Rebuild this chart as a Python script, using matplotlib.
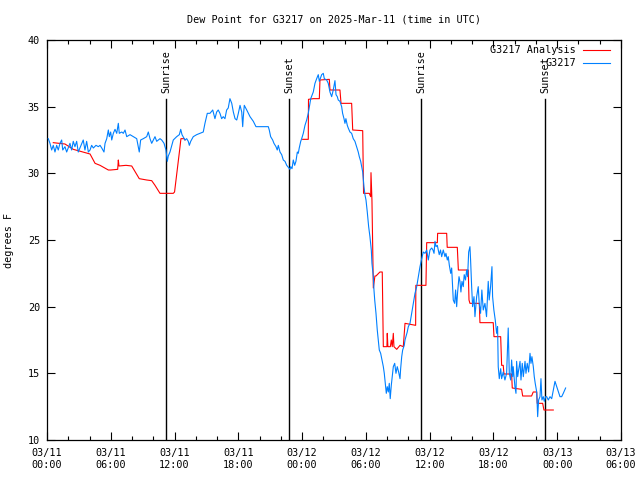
import numpy as np
import matplotlib
matplotlib.use("Agg")
from matplotlib import pyplot as plt
from matplotlib.ticker import MultipleLocator

plt.rcParams['font.family'] = ['DejaVu Sans Mono']
plt.rcParams['font.size'] = 7.3

# hours since 2025-03-11 00:00 UTC
analysis_t = [0.59, 1.69, 2.47, 4.05, 4.52, 4.99, 5.77, 5.99, 6.65, 6.71, 6.77, 7.43, 7.97,
              8.68, 9.38, 9.85, 10.16, 10.63, 11.88, 12.0, 12.5, 12.6, 12.89, 12.98, 13.0,
              24.0, 24.05, 24.58, 24.6, 25.05, 25.62, 25.68, 26.56, 26.62, 27.56, 27.66,
              28.66, 28.76, 29.70, 29.78, 30.32, 30.45, 30.48, 30.57, 30.64, 30.70, 30.85,
              30.95, 31.32, 31.54, 31.64, 31.98, 32.01, 32.07, 32.30, 32.39, 32.48, 32.58,
              32.64, 32.90, 33.21, 33.52, 33.68, 34.68, 34.70, 35.65, 35.72, 36.72, 36.75,
              37.60, 37.65, 38.60, 38.70, 39.63, 39.70, 39.79, 40.67, 40.73, 41.98, 42.05,
              42.68, 42.77, 42.92, 42.99, 43.71, 43.77, 44.65, 44.75, 45.59, 45.74, 46.07,
              46.12, 46.63, 46.75, 47.63]
analysis_v = [32.3, 32.2, 31.8, 31.45, 30.75, 30.6, 30.25, 30.25, 30.3, 31.0, 30.55, 30.6, 30.55,
              29.6, 29.5, 29.45, 29.1, 28.5, 28.5, 28.6, 31.9, 32.6, 32.6, 32.5, np.nan,
              np.nan, 32.55, 32.55, 35.55, 35.6, 35.6, 37.0, 37.05, 36.25, 36.25, 35.25,
              35.25, 33.25, 33.2, 28.5, 28.5, 28.25, 30.05, 28.0, 24.5, 21.4, 22.3,
              22.3, 22.6, 22.6, 17.0, 17.0, 18.0, 17.0, 17.0, 17.5, 17.0, 18.0,
              17.0, 16.8, 17.1, 17.0, 18.75, 18.6, 21.6, 21.6, 24.8, 24.8, 25.5,
              25.5, 24.45, 24.45, 22.75, 22.75, 20.5, 20.25, 20.25, 18.8, 18.8, 17.75,
              17.75, 15.6, 15.6, 14.95, 14.95, 13.9, 13.8, 13.3, 13.3, 13.6, 13.6,
              12.75, 12.75, 12.25, 12.25]

obs_t = [0.12, 0.28, 0.44, 0.59, 0.75, 0.91, 1.06, 1.22, 1.38, 1.48, 1.69, 1.85, 2.16, 2.32,
         2.47, 2.63, 2.79, 2.94, 3.10, 3.41, 3.57, 3.73, 3.89, 4.05, 4.20, 4.36, 4.61, 4.83,
         4.99, 5.15, 5.36, 5.46, 5.62, 5.77, 5.86, 5.99, 6.09, 6.24, 6.40, 6.56, 6.71, 6.80,
         7.03, 7.18, 7.34, 7.50, 7.81, 8.12, 8.44, 8.68, 8.81, 9.06, 9.38, 9.53, 9.69, 9.85,
         10.00, 10.16, 10.32, 10.47, 10.63, 10.79, 11.01, 11.19, 11.32, 11.41, 11.57, 11.88,
         12.20, 12.45, 12.58, 12.70, 12.98, 13.14, 13.29, 13.39, 13.52, 13.76, 14.08, 14.39,
         14.70, 14.86, 15.08, 15.33, 15.59, 15.80, 15.96, 16.11, 16.27, 16.43, 16.58, 16.74,
         16.90, 17.05, 17.21, 17.38, 17.53, 17.69, 17.85, 18.00, 18.16, 18.32, 18.41, 18.47,
         18.56, 18.79, 18.94, 19.10, 19.41, 19.66, 20.82, 20.91, 21.04, 21.23, 21.35, 21.54,
         21.66, 21.76, 21.92, 22.08, 22.23, 22.39, 22.55, 22.70, 22.86, 22.93, 23.05, 23.17,
         23.30, 23.42, 23.55, 23.64, 23.73, 23.87, 23.96, 24.11, 24.27, 24.43, 24.58, 24.68,
         24.81, 24.96, 25.05, 25.21, 25.37, 25.52, 25.62, 25.84, 25.99, 26.09, 26.31, 26.46,
         26.62, 26.78, 26.93, 27.09, 27.19, 27.31, 27.40, 27.56, 27.72, 27.81, 27.94, 28.03,
         28.12, 28.25, 28.34, 28.50, 28.66, 28.81, 28.97, 29.13, 29.28, 29.38, 29.51, 29.60,
         29.70, 29.82, 29.91, 30.01, 30.13, 30.26, 30.38, 30.51, 30.57, 30.70, 30.76, 30.83,
         30.95, 31.07, 31.16, 31.26, 31.39, 31.51, 31.64, 31.73, 31.82, 31.92, 32.01, 32.11,
         32.20, 32.29, 32.39, 32.48, 32.58, 32.71, 32.83, 32.95, 33.08, 33.21, 33.27, 33.37,
         33.46, 33.61, 33.68, 33.77, 33.89, 33.99, 34.15, 34.31, 34.46, 34.62, 34.78, 34.93,
         35.09, 35.25, 35.40, 35.56, 35.72, 35.87, 36.03, 36.19, 36.31, 36.41, 36.50, 36.60,
         36.72, 36.81, 36.90, 37.02, 37.13, 37.28, 37.44, 37.53, 37.66, 37.75, 37.85, 37.98,
         38.07, 38.16, 38.22, 38.35, 38.44, 38.54, 38.63, 38.76, 38.85, 38.94, 39.04, 39.16,
         39.25, 39.37, 39.48, 39.57, 39.67, 39.79, 39.85, 39.95, 40.04, 40.17, 40.26, 40.42,
         40.57, 40.66, 40.79, 40.91, 41.04, 41.20, 41.35, 41.51, 41.60, 41.73, 41.86, 41.92,
         42.04, 42.17, 42.30, 42.39,
         42.45, 42.55, 42.68, 42.77, 42.92, 43.08, 43.24, 43.39, 43.49, 43.62, 43.71, 43.81,
         43.86, 44.02, 44.12, 44.18, 44.28, 44.37, 44.50, 44.59, 44.71, 44.81, 44.97, 45.06,
         45.18, 45.31, 45.44, 45.53, 45.62, 45.75, 45.84, 45.93, 46.07, 46.16, 46.25, 46.38,
         46.47, 46.56, 46.69, 46.78, 46.91, 47.01, 47.16, 47.32, 47.48, 47.63, 47.79, 47.95,
         48.10, 48.26, 48.42, 48.57, 48.79]
obs_v = [32.6, 32.25, 31.75, 32.1, 31.6, 32.1, 31.75, 32.25, 32.5, 31.75, 32.0, 31.6, 32.25, 31.75,
         32.4, 32.0, 32.4, 31.6, 31.9, 32.5, 31.75, 32.4, 31.6, 31.75, 32.1, 31.9, 32.1, 32.0,
         32.1, 31.9, 31.6, 32.25, 32.6, 33.25, 32.75, 33.1, 32.5, 33.0, 33.3, 33.0, 33.75, 33.0,
         33.1, 33.0, 33.25, 32.75, 32.9, 32.75, 32.6, 31.6, 32.5, 32.6, 32.75, 33.1, 32.6, 32.25,
         32.5, 32.75, 32.4, 32.5, 32.6, 32.5, 32.25, 31.75, 30.9, 31.3, 31.6, 32.5,
         32.75, 32.9, 33.3, 32.9, 32.5, 32.6, 32.4, 32.1, 32.4, 32.75, 32.9, 33.0,
         33.1, 33.75, 34.5, 34.5, 34.75, 34.1, 34.6, 34.75, 34.5, 34.1, 34.25, 34.1,
         34.75, 34.9, 35.6, 35.25, 34.6, 34.1, 34.0, 34.5, 35.1, 34.6, 33.5, 34.25,
         35.1, 34.75, 34.5, 34.25, 33.9, 33.5, 33.5, 33.25, 32.75, 32.5, 32.25, 32.0,
         31.75, 32.1, 31.6, 31.4, 31.0, 30.9, 30.6, 30.45, 30.3, 30.5, 30.35, 31.0,
         30.6, 30.9, 31.6, 31.5, 31.9, 32.4, 32.6, 33.0, 33.6, 34.0, 34.5, 35.0,
         35.6, 35.9, 36.1, 36.75, 37.1, 37.4, 36.9, 37.4, 37.5, 37.1, 37.0, 36.75,
         36.1, 35.75, 36.25, 36.95, 35.9, 35.75, 35.5, 35.4, 35.0, 34.5, 34.1, 33.75,
         34.1, 33.6, 33.4, 33.1, 33.0, 32.6, 32.4, 32.0, 31.6, 31.25, 30.9, 30.5,
         30.1, 29.0, 28.4, 28.0, 27.1, 26.0, 25.25, 24.25, 23.25, 22.25, 21.25, 20.5,
         19.5, 18.25, 17.5, 16.75, 16.5, 16.0, 15.5, 15.0, 14.25, 13.5, 14.0, 13.6,
         14.25, 13.1, 14.1, 14.75, 15.5, 15.75, 15.0, 15.5, 15.1, 14.6, 15.35, 16.25,
         16.75, 17.1, 17.5, 17.75, 18.1, 18.5, 18.75, 19.5, 20.25, 21.0, 21.5, 22.25,
         23.0, 23.6, 24.1, 24.0, 24.25, 23.5, 24.25, 24.4, 24.25, 24.0, 24.9, 24.5,
         24.6, 24.25, 23.9, 24.25, 23.75, 24.25, 23.75, 24.0, 23.5, 23.75, 23.1, 22.5,
         22.9, 21.5, 20.5, 20.25, 21.25, 20.0, 21.1, 22.25, 21.9, 21.1, 21.9, 21.5,
         22.4, 22.0, 22.75, 22.25, 24.1, 24.5, 23.5, 21.5, 20.0, 20.75, 19.25, 20.75,
         21.5, 20.25, 19.5, 21.25, 19.75, 20.25, 19.25, 21.9, 20.5, 21.5, 23.0, 20.75,
         19.75, 19.0, 18.0, 18.5,
         15.5, 14.6, 15.35, 14.6, 15.1, 14.5, 15.0, 18.4, 15.0, 14.5, 16.0, 14.75,
         15.5, 14.0, 13.5, 15.9, 14.75, 15.25, 15.9, 14.5, 15.75, 14.75, 15.9, 15.0,
         15.75, 15.1, 16.5, 15.75, 16.25, 15.5, 14.75, 14.25, 13.6, 11.75, 13.0, 13.25,
         14.6, 13.0, 13.25, 12.9, 13.25, 13.25, 13.0, 13.25, 13.1, 13.75, 14.4, 14.0,
         13.6, 13.25, 13.25, 13.5, 13.9]

sun_t = [11.19, 22.77, 35.18, 46.85]
sun_lbl = ["Sunrise", "Sunset", "Sunrise", "Sunset"]

tick_hours = list(range(0, 55, 6))
tick_lbls = ["03/11\n00:00", "03/11\n06:00", "03/11\n12:00", "03/11\n18:00",
             "03/12\n00:00", "03/12\n06:00", "03/12\n12:00", "03/12\n18:00",
             "03/13\n00:00", "03/13\n06:00"]

fig = plt.figure(figsize=(6.4, 4.8), dpi=100)
ax = fig.add_axes([47 / 640, 40 / 480, 574 / 640, 400 / 480])

for t, lbl in zip(sun_t, sun_lbl):
    ax.plot([t, t], [10, 35.6], color='black', linewidth=1.0, zorder=1)
    ax.text(t, 36.0, lbl, rotation=90, ha='center', va='bottom', fontsize=7.3)

ax.plot(analysis_t, analysis_v, color='#ff0000', linewidth=0.8, zorder=2)
ax.plot(obs_t, obs_v, color='#0080ff', linewidth=0.8, zorder=3)

ax.set_xlim(0, 54)
ax.set_ylim(10, 40)
ax.set_xticks(tick_hours)
ax.set_xticklabels(tick_lbls)
ax.xaxis.set_minor_locator(MultipleLocator(2))
ax.set_yticks([10, 15, 20, 25, 30, 35, 40])
ax.tick_params(which='major', direction='in', length=6, width=0.8, top=True, right=True, pad=5)
ax.tick_params(which='minor', direction='in', length=3, width=0.8, top=True, right=True)
ax.tick_params(axis='x', pad=6)
for s in ax.spines.values():
    s.set_linewidth(0.9)

ax.set_ylabel("degrees F", labelpad=10)
fig.suptitle("Dew Point for G3217 on 2025-Mar-11 (time in UTC)", x=334 / 640, y=1 - 20 / 480,
             va='center', fontsize=7.3)

# key, top right
ax.text(0.9216, 0.975, "G3217 Analysis", transform=ax.transAxes, ha='right', va='center')
ax.text(0.9216, 0.9425, "G3217", transform=ax.transAxes, ha='right', va='center')
ax.plot([0.934, 0.981], [0.975, 0.975], color='#ff0000', linewidth=0.8, transform=ax.transAxes)
ax.plot([0.934, 0.981], [0.9425, 0.9425], color='#0080ff', linewidth=0.8, transform=ax.transAxes)

fig.savefig("out.png", dpi=100)
